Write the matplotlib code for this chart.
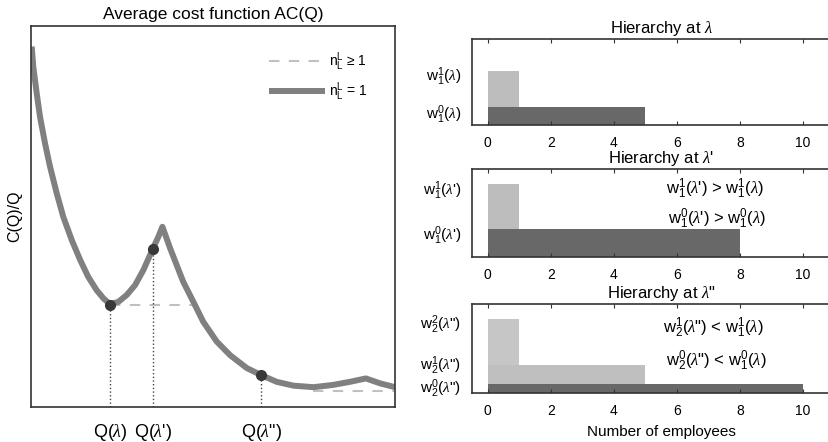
import numpy as np
import matplotlib
matplotlib.use('Agg')
import matplotlib.pyplot as plt

plt.rcParams['font.family'] = ['Liberation Sans', 'DejaVu Sans']
plt.rcParams['mathtext.fontset'] = 'custom'
plt.rcParams['mathtext.rm'] = 'Liberation Sans'
plt.rcParams['mathtext.it'] = 'Liberation Serif:italic'
plt.rcParams['mathtext.default'] = 'regular'

L = r'$\mathit{\lambda}$'

# average cost curve (n_L^L = 1)
q = [0.19, 0.63, 1.57, 2.47, 3.85, 5.22, 7.06, 8.87, 11.2, 13.5, 15.7, 18.0,
     19.9, 21.7, 24.0, 26.3, 28.6, 30.9, 33.4, 35.0, 36.1, 38.2, 40.0, 41.8,
     44.6, 47.3, 51.0, 54.7, 59.3, 63.2, 67.5, 72.1, 77.6, 83.0, 87.6, 92.0,
     95.9, 100.0]
ac = [94.6, 89.3, 82.3, 76.2, 69.2, 63.1, 56.1, 49.9, 43.8, 38.6, 34.2, 30.7,
      28.5, 27.0, 27.6, 29.4, 32.0, 36.0, 41.4, 44.7, 47.3, 41.7, 37.3, 32.9,
      27.6, 22.4, 17.2, 13.6, 10.2, 8.4, 6.6, 5.6, 5.2, 5.8, 6.6, 7.5,
      6.2, 5.2]

# n_L^L >= 1 where it departs from the curve
env_q = [21.7, 45.1, np.nan, 77.6, 100.0]
env_ac = [26.9, 26.9, np.nan, 4.3, 4.3]

# optimal points
q_pts = [21.8, 33.4, 63.2]
ac_pts = [26.9, 41.4, 8.4]
q_labels = ['Q(' + L + ')', 'Q(' + L + "')", 'Q(' + L + '")']

# hierarchies: employees per layer and wage per layer (top layer first)
titles = ['Hierarchy at ' + L, 'Hierarchy at ' + L + "'", 'Hierarchy at ' + L + '"']
employees = [[1, 5], [1, 8], [1, 5, 10]]
wages = [[3.0, 1.0], [4.0, 1.5], [4.0, 1.5, 0.5]]
wage_ticks = [[2.67, 0.59], [3.63, 1.17], [3.67, 1.45, 0.25]]
wage_labels = [
    ['w$_1^1$(' + L + ')', 'w$_1^0$(' + L + ')'],
    ['w$_1^1$(' + L + "')", 'w$_1^0$(' + L + "')"],
    ['w$_2^2$(' + L + '")', 'w$_2^1$(' + L + '")', 'w$_2^0$(' + L + '")'],
]
notes = [
    [],
    ['w$_1^1$(' + L + "') > w$_1^1$(" + L + ')', 'w$_1^0$(' + L + "') > w$_1^0$(" + L + ')'],
    ['w$_2^1$(' + L + '") < w$_1^1$(' + L + ')', 'w$_2^0$(' + L + '") < w$_1^0$(' + L + ')'],
]
note_pos = [[], [(7.2, 3.7), (7.26, 2.1)], [(7.17, 3.5), (7.26, 1.75)]]
layer_colors = [['#bdbdbd', '#686868'], ['#bdbdbd', '#686868'],
                ['#c6c6c6', '#bfbfbf', '#686868']]

fig = plt.figure(figsize=(8.29, 4.42), dpi=100)
spine_col = '#333333'

# left: average cost
ax = fig.add_axes([0.0374, 0.0792, 0.4391, 0.862])
ax.plot(env_q, env_ac, color='#c0c0c0', lw=1.5, dashes=(5, 4.5),
        label='n$_L^L$ ≥ 1', zorder=1)
ax.plot(q, ac, color='#808080', lw=4.3, solid_joinstyle='round',
        solid_capstyle='butt', label='n$_L^L$ = 1', zorder=2)
for x, y in zip(q_pts, ac_pts):
    ax.plot([x, x], [0, y], color='#444444', lw=1, ls=':', zorder=1)
ax.plot(q_pts, ac_pts, 'o', color='#383838', ms=7, zorder=3)
ax.set_xlim(0, 100)
ax.set_ylim(0, 100)
ax.set_xticks(q_pts)
ax.set_xticklabels(q_labels, fontsize=13)
ax.tick_params(axis='x', length=0, pad=11)
ax.set_yticks([])
ax.set_ylabel('C(Q)/Q', fontsize=11.5, labelpad=6)
ax.set_title('Average cost function AC(Q)', fontsize=12.5, pad=5)
for s in ax.spines.values():
    s.set_color(spine_col)
    s.set_linewidth(1.2)
leg = ax.legend(loc='upper left', bbox_to_anchor=(0.62, 0.97), frameon=False,
                fontsize=10, handlelength=4.0, handletextpad=0.3, labelspacing=0.55)

# right: hierarchies
boxes = [[0.5694, 0.7172, 0.456, 0.1946],
         [0.5694, 0.4186, 0.456, 0.1991],
         [0.5694, 0.1109, 0.456, 0.2014]]
for i in range(3):
    a = fig.add_axes(boxes[i])
    for n, w, c in zip(employees[i], wages[i], layer_colors[i]):
        a.bar(0, w, width=n, align='edge', color=c, edgecolor='none')
    a.set_xlim(-0.5, 11.5)
    a.set_ylim(0, 4.8)
    a.set_xticks(range(0, 11, 2))
    a.tick_params(axis='x', direction='in', top=True, length=3, pad=8,
                  labelsize=10, color=spine_col)
    a.set_yticks(wage_ticks[i])
    a.set_yticklabels(wage_labels[i], fontsize=11, va='center')
    a.tick_params(axis='y', length=0, pad=8)
    a.set_title(titles[i], fontsize=12, pad=4)
    for t, (x, y) in zip(notes[i], note_pos[i]):
        a.text(x, y, t, fontsize=12, ha='center', va='center')
    for s in a.spines.values():
        s.set_color(spine_col)
        s.set_linewidth(1.2)
    if i == 2:
        a.set_xlabel('Number of employees', fontsize=11, labelpad=5)

fig.savefig('out.png', dpi=100)
